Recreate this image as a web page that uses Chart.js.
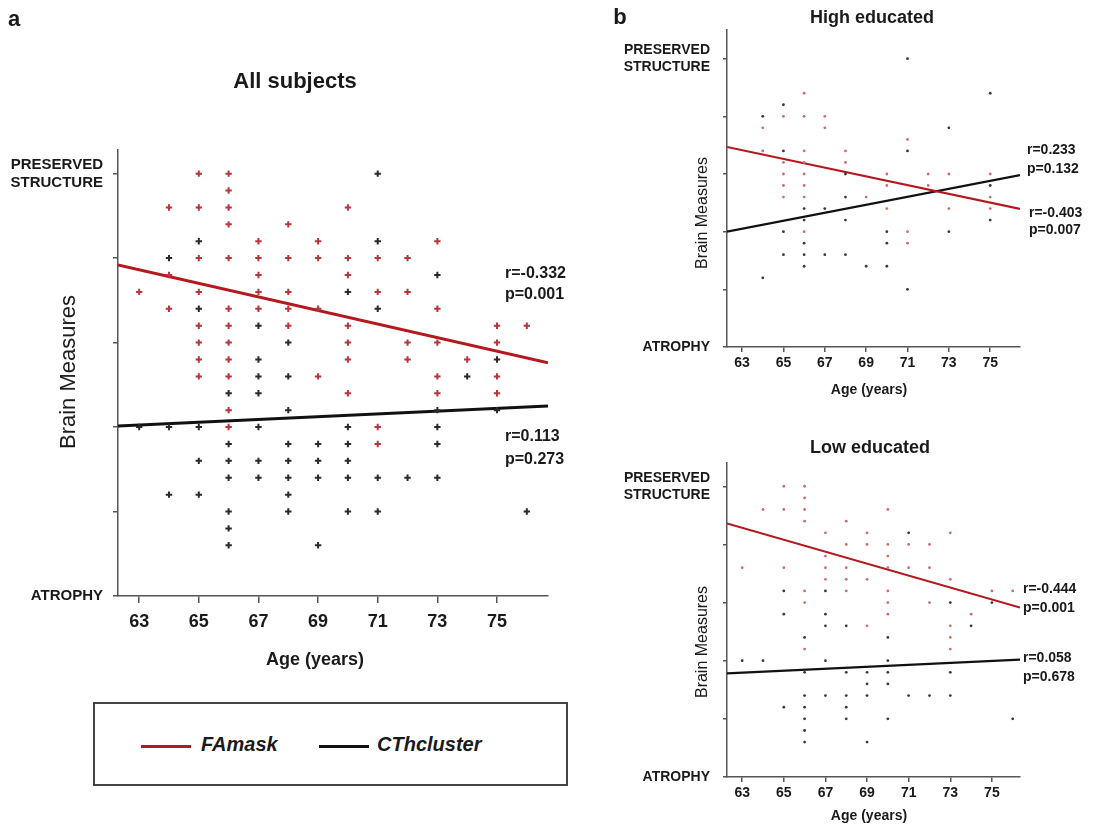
<!DOCTYPE html>
<html>
<head>
<meta charset="utf-8">
<script src="https://cdn.jsdelivr.net/npm/chart.js@4.4.1/dist/chart.umd.min.js"></script>
<style>
  body { margin: 0; background: #fff; font-family: "Liberation Sans", Arial, sans-serif; color: #1a1a1a; }
  #fig { position: relative; width: 1095px; height: 827px; overflow: hidden; }
  canvas { position: absolute; }
  .t { position: absolute; white-space: nowrap; font-weight: bold; }
  .c { position: absolute; white-space: nowrap; font-weight: bold; transform: translate(-50%, -50%); }
  .rot { position: absolute; white-space: nowrap; transform: translate(-50%, -50%) rotate(-90deg); }
  .legend { position: absolute; left: 93px; top: 702px; width: 471px; height: 80px; border: 2px solid #444; }
  .legend span.line { position: absolute; top: 41px; height: 3px; }
  .legend span.lab { position: absolute; top: 29px; font: italic bold 20px "Liberation Sans", Arial, sans-serif; }
</style>
</head>
<body>
<div id="fig">
  <canvas id="chartA" width="600" height="650" style="left:0;top:0;width:600px;height:650px"></canvas>
  <canvas id="chartB1" width="495" height="400" style="left:600px;top:0;width:495px;height:400px"></canvas>
  <canvas id="chartB2" width="495" height="397" style="left:600px;top:430px;width:495px;height:397px"></canvas>

  <!-- panel a texts -->
  <div class="c" style="left:14px;top:19px;font-size:22px">a</div>
  <div class="c" style="left:295px;top:81px;font-size:22px">All subjects</div>
  <div class="rot" style="left:68px;top:372px;font-size:22px">Brain Measures</div>
  <div class="c" style="left:315px;top:659px;font-size:18px">Age (years)</div>
  <div class="t" style="left:505px;top:264px;font-size:16px">r=-0.332</div>
  <div class="t" style="left:505px;top:285px;font-size:16px">p=0.001</div>
  <div class="t" style="left:505px;top:427px;font-size:16px">r=0.113</div>
  <div class="t" style="left:505px;top:450px;font-size:16px">p=0.273</div>

  <div class="legend">
    <span class="line" style="left:46px;width:50px;background:#b3191f"></span>
    <span class="lab" style="left:106px">FAmask</span>
    <span class="line" style="left:224px;width:50px;background:#111"></span>
    <span class="lab" style="left:282px">CThcluster</span>
  </div>

  <!-- panel b texts -->
  <div class="c" style="left:620px;top:17px;font-size:22px">b</div>
  <div class="c" style="left:872px;top:17px;font-size:18px">High educated</div>
  <div class="rot" style="left:702px;top:213px;font-size:16px">Brain Measures</div>
  <div class="c" style="left:869px;top:389px;font-size:14px">Age (years)</div>
  <div class="t" style="left:1027px;top:141px;font-size:14px">r=0.233</div>
  <div class="t" style="left:1027px;top:160px;font-size:14px">p=0.132</div>
  <div class="t" style="left:1029px;top:204px;font-size:14px">r=-0.403</div>
  <div class="t" style="left:1029px;top:221px;font-size:14px">p=0.007</div>

  <div class="c" style="left:870px;top:447px;font-size:18px">Low educated</div>
  <div class="rot" style="left:702px;top:642px;font-size:16px">Brain Measures</div>
  <div class="c" style="left:869px;top:815px;font-size:14px">Age (years)</div>
  <div class="t" style="left:1023px;top:580px;font-size:14px">r=-0.444</div>
  <div class="t" style="left:1023px;top:599px;font-size:14px">p=0.001</div>
  <div class="t" style="left:1023px;top:649px;font-size:14px">r=0.058</div>
  <div class="t" style="left:1023px;top:668px;font-size:14px">p=0.678</div>
</div>

<script>
// axis ticks, shared by the three panels
const ageTicks = [63, 65, 67, 69, 71, 73, 75];
const levelTicks = [0, 5, 10, 15, 20, 25];

// panel a, all subjects: [age, brain measure level]
const allFA = [
  [65,25],[66,25],[66,24],[64,23],[65,23],[66,23],[70,23],[66,22],[68,22],
  [67,21],[69,21],[73,21],[65,20],[66,20],[67,20],[68,20],[69,20],[70,20],[71,20],[72,20],
  [64,19],[67,19],[70,19],[63,18],[65,18],[67,18],[68,18],[71,18],[72,18],
  [64,17],[66,17],[67,17],[68,17],[69,17],[73,17],[65,16],[66,16],[68,16],[70,16],[75,16],[76,16],
  [65,15],[66,15],[70,15],[72,15],[73,15],[75,15],[65,14],[66,14],[70,14],[72,14],[74,14],
  [65,13],[66,13],[69,13],[73,13],[75,13],[70,12],[73,12],[75,12],[66,11],[66,10],[71,10],[71,9]
];
const allCTh = [
  [71,25],[65,21],[71,21],[64,20],[73,19],[70,18],[65,17],[71,17],[67,16],[68,15],[67,14],[75,14],
  [67,13],[68,13],[74,13],[66,12],[67,12],[68,11],[73,11],[75,11],
  [63,10],[64,10],[65,10],[67,10],[70,10],[73,10],[66,9],[68,9],[69,9],[70,9],[73,9],
  [65,8],[66,8],[67,8],[68,8],[69,8],[70,8],[66,7],[67,7],[68,7],[69,7],[70,7],[71,7],[72,7],[73,7],
  [64,6],[65,6],[68,6],[66,5],[68,5],[70,5],[71,5],[76,5],[66,4],[66,3],[69,3]
];
const allFALine = [[62.29, 19.6], [76.71, 13.8]];
const allCThLine = [[62.29, 10.07], [76.71, 11.25]];

// panel b, high educated
const highFA = [
  [66,22],[65,20],[66,20],[67,20],[64,19],[67,19],[71,18],[64,17],[66,17],[68,17],
  [65,16],[66,16],[68,16],[65,15],[66,15],[70,15],[72,15],[73,15],[75,15],
  [65,14],[66,14],[70,14],[72,14],[65,13],[66,13],[69,13],[75,13],[70,12],[73,12],[75,12],
  [66,10],[71,10],[71,9]
];
const highCTh = [
  [71,25],[75,22],[65,21],[64,20],[73,19],[65,17],[71,17],[68,15],[75,14],[68,13],
  [66,12],[67,12],[66,11],[68,11],[75,11],[65,10],[70,10],[73,10],[66,9],[70,9],
  [65,8],[66,8],[67,8],[68,8],[66,7],[69,7],[70,7],[64,6],[71,5]
];
const highFALine = [[62.27, 17.34], [76.44, 11.97]];
const highCThLine = [[62.27, 10.0], [76.44, 14.9]];

// panel b, low educated
const lowFA = [
  [65,25],[66,25],[66,24],[64,23],[65,23],[66,23],[70,23],[66,22],[68,22],
  [67,21],[69,21],[73,21],[68,20],[69,20],[70,20],[71,20],[72,20],[67,19],[70,19],
  [63,18],[65,18],[67,18],[68,18],[70,18],[71,18],[72,18],[67,17],[68,17],[69,17],[73,17],
  [66,16],[68,16],[70,16],[75,16],[76,16],[66,15],[70,15],[72,15],[70,14],[74,14],
  [69,13],[73,13],[73,12],[66,11],[73,11]
];
const lowCTh = [
  [71,21],[65,16],[67,16],[73,15],[75,15],[65,14],[67,14],[67,13],[68,13],[74,13],[66,12],[70,12],
  [63,10],[64,10],[67,10],[70,10],[66,9],[68,9],[69,9],[70,9],[73,9],[69,8],[70,8],
  [66,7],[67,7],[68,7],[69,7],[71,7],[72,7],[73,7],[65,6],[66,6],[68,6],
  [66,5],[68,5],[70,5],[76,5],[66,4],[66,3],[69,3]
];
const lowFALine = [[62.27, 21.8], [76.35, 14.57]];
const lowCThLine = [[62.27, 8.91], [76.35, 10.09]];

Chart.defaults.font.family = '"Liberation Sans", Arial, sans-serif';
Chart.defaults.color = '#1a1a1a';

function pts(list) {
  return list.map(p => ({ x: p[0], y: p[1] }));
}

function makePanel(id, cfg) {
  const big = cfg.big;
  const dot = big
    ? { pointStyle: 'cross', pointRadius: 3.2, borderWidth: 2 }
    : { pointStyle: 'circle', pointRadius: 1.4, borderWidth: 0 };

  return new Chart(document.getElementById(id), {
    type: 'scatter',
    data: {
      datasets: [
        Object.assign({ data: pts(cfg.fa), borderColor: big ? '#b8353c' : '#d36b6b', backgroundColor: big ? '#b8353c' : '#d36b6b' }, dot),
        Object.assign({ data: pts(cfg.cth), borderColor: big ? '#2a2a2a' : '#3a3a3a', backgroundColor: big ? '#2a2a2a' : '#3a3a3a' }, dot),
        { data: pts(cfg.faLine), showLine: true, pointRadius: 0, borderColor: '#b3191f', borderWidth: big ? 3 : 2.2 },
        { data: pts(cfg.cthLine), showLine: true, pointRadius: 0, borderColor: '#111', borderWidth: big ? 3 : 2.2 }
      ]
    },
    options: {
      responsive: false,
      animation: false,
      events: [],
      layout: { padding: { left: 0, top: cfg.padTop, right: cfg.padRight, bottom: 0 } },
      plugins: { legend: { display: false }, tooltip: { enabled: false } },
      scales: {
        x: {
          type: 'linear',
          min: cfg.xMin,
          max: cfg.xMax,
          afterBuildTicks: s => { s.ticks = ageTicks.map(v => ({ value: v })); },
          afterFit: s => { s.height = cfg.xHeight; },
          ticks: { font: { size: big ? 18 : 14, weight: 'bold' }, padding: big ? 8 : 3, maxRotation: 0, color: '#1a1a1a' },
          grid: { drawOnChartArea: false, tickLength: big ? 7 : 5, color: '#555', lineWidth: 1.5 },
          border: { color: '#555', width: 1.5 }
        },
        y: {
          type: 'linear',
          min: 0,
          max: cfg.yMax,
          afterBuildTicks: s => { s.ticks = levelTicks.map(v => ({ value: v })); },
          afterFit: s => { s.width = cfg.yWidth; },
          ticks: {
            font: { size: big ? 15 : 14, weight: 'bold' },
            padding: big ? 10 : 13,
            color: '#1a1a1a',
            callback: v => v === 25 ? ['PRESERVED', 'STRUCTURE'] : (v === 0 ? 'ATROPHY' : '')
          },
          grid: { drawOnChartArea: false, tickLength: big ? 5 : 4, color: '#555', lineWidth: 1.5 },
          border: { color: '#555', width: 1.5 }
        }
      }
    }
  });
}

makePanel('chartA', {
  big: true, fa: allFA, cth: allCTh, faLine: allFALine, cthLine: allCThLine,
  xMin: 62.29, xMax: 76.71, yMax: 26.4, padTop: 150, padRight: 52, yWidth: 118, xHeight: 54
});
makePanel('chartB1', {
  big: false, fa: highFA, cth: highCTh, faLine: highFALine, cthLine: highCThLine,
  xMin: 62.27, xMax: 76.44, yMax: 27.5, padTop: 27, padRight: 75, yWidth: 127, xHeight: 53
});
makePanel('chartB2', {
  big: false, fa: lowFA, cth: lowCTh, faLine: lowFALine, cthLine: lowCThLine,
  xMin: 62.27, xMax: 76.35, yMax: 27, padTop: 33, padRight: 75, yWidth: 127, xHeight: 50
});
</script>
</body>
</html>
